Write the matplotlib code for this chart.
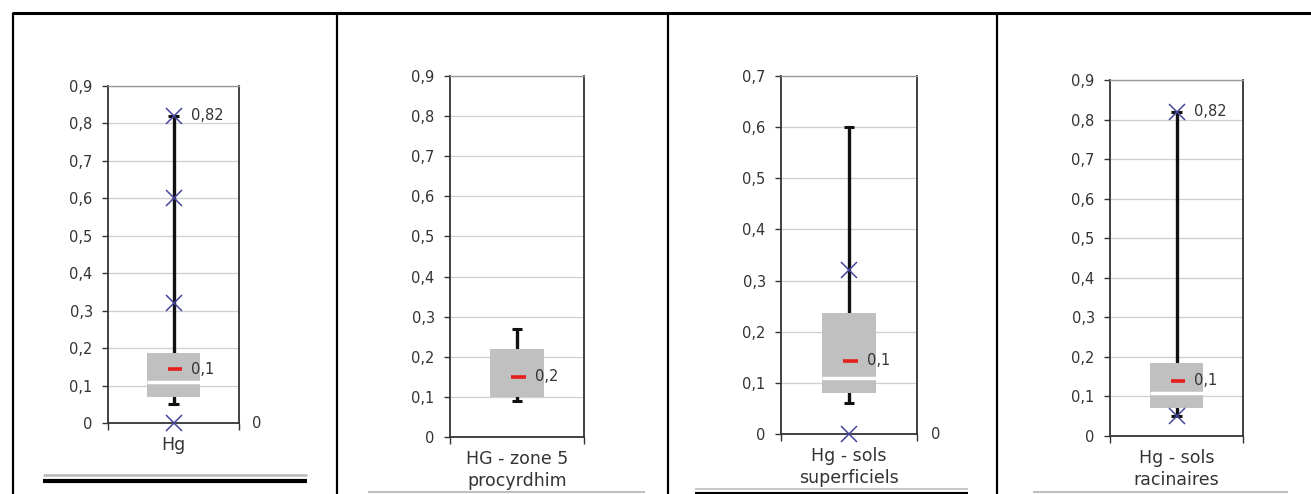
import matplotlib
matplotlib.use("Agg")
import matplotlib.pyplot as plt
import numpy as np
from matplotlib.lines import Line2D

plt.rcParams['font.family'] = ['DejaVu Sans']

# data
labels = ["Hg", "HG - zone 5\nprocyrdhim", "Hg - sols\nsuperficiels", "Hg - sols\nracinaires"]
q1 = [0.07, 0.10, 0.08, 0.07]
q3 = [0.187, 0.22, 0.237, 0.185]
medians = [0.11, None, 0.11, 0.108]
means = [0.144, 0.15, 0.143, 0.14]
w_low = [0.05, 0.09, 0.06, 0.05]
w_high = [0.82, 0.27, 0.60, 0.82]
crosses = [[0.82, 0.6, 0.32, 0.0], [], [0.32, 0.0], [0.82, 0.05]]
mean_txt = ["0,1", "0,2", "0,1", "0,1"]
max_txt = ["0,82", None, None, "0,82"]
right_zero = [True, False, True, False]
y_max = [0.9, 0.9, 0.7, 0.9]

W, H = 1311, 494
fig = plt.figure(figsize=(W / 100, H / 100), dpi=100)

# axes boxes in pixels: left, right, top, bottom
boxes = [(108, 239, 86, 423), (450, 584, 76, 437), (781, 917, 76, 434), (1110, 1243, 80, 436)]


def fline(x0, x1, y0, y1, color, lw):
    fig.add_artist(Line2D([x0 / W, x1 / W], [1 - y0 / H, 1 - y1 / H], color=color, lw=lw,
                          transform=fig.transFigure, solid_capstyle='butt'))


# table frame
fline(12, W, 13, 13, 'black', 2.2)
for x in [13, 337, 668, 997]:
    fline(x, x, 13, H, 'black', 1.6)

# rules under the charts
fline(43, 307, 475, 475, '#b8b8b8', 1.8)
fline(43, 307, 481, 481, 'black', 3.0)
fline(368, 645, 492, 492, '#c0c0c0', 1.5)
fline(695, 968, 489, 489, '#c0c0c0', 1.2)
fline(695, 968, 493, 493, 'black', 1.5)
fline(1033, 1288, 492, 492, '#c0c0c0', 1.5)

for i in range(4):
    L, R, T, B = boxes[i]
    ax = fig.add_axes([L / W, 1 - B / H, (R - L) / W, (B - T) / H])
    ax.set_xlim(0, 1)
    ax.set_ylim(0, y_max[i])

    yt = np.arange(0, y_max[i] + 0.001, 0.1)
    ax.set_yticks(yt)
    ax.set_yticklabels(["0" if v == 0 else f"{v:.1f}".replace('.', ',') for v in yt])
    ax.tick_params(axis='y', length=4, width=1, direction='out', color='#333333',
                   labelsize=10.5, labelcolor='#333333', pad=7)
    ax.yaxis.grid(True, color='#cfcfcf', lw=0.9, zorder=0)
    ax.set_axisbelow(True)

    ax.set_xticks([0.5])
    ax.set_xticklabels([labels[i]], fontsize=12.5, color='#333333', linespacing=1.3)
    ax.tick_params(axis='x', length=0, pad=9)
    ax.set_xticks([0, 1], minor=True)
    ax.tick_params(axis='x', which='minor', length=5, width=1, color='#333333', direction='out')

    for s in ['left', 'right', 'bottom']:
        ax.spines[s].set_color('#333333')
        ax.spines[s].set_linewidth(1.3)
    ax.spines['top'].set_color('#999999')
    ax.spines['top'].set_linewidth(1.0)

    # whisker and caps
    ax.vlines(0.5, w_low[i], w_high[i], color='#111111', lw=2.4, zorder=1)
    ax.hlines([w_low[i], w_high[i]], 0.46, 0.54, color='#111111', lw=2.2, zorder=1)
    # box
    ax.bar(0.5, q3[i] - q1[i], bottom=q1[i], width=0.4, color='#c0c0c0', zorder=2)
    if medians[i] is not None:
        ax.hlines(medians[i], 0.3, 0.7, color='white', lw=2.5, zorder=3)
    # mean
    ax.hlines(means[i], 0.455, 0.565, color='#e3201b', lw=2.6, zorder=4)
    ax.text(0.635, means[i], mean_txt[i], fontsize=10.5, color='#333333', va='center', zorder=6)
    # individual points
    if crosses[i]:
        ax.plot([0.5] * len(crosses[i]), crosses[i], linestyle='none', marker='x', ms=11,
                mew=1.1, color='#45459a', zorder=5, clip_on=False)
    if max_txt[i]:
        ax.text(0.635, w_high[i], max_txt[i], fontsize=10.5, color='#333333', va='center', zorder=6)
    if right_zero[i]:
        ax.text(1.1, 0, "0", fontsize=10.5, color='#333333', va='center',
                transform=ax.get_yaxis_transform(), clip_on=False)

fig.savefig("out.png", dpi=100)
